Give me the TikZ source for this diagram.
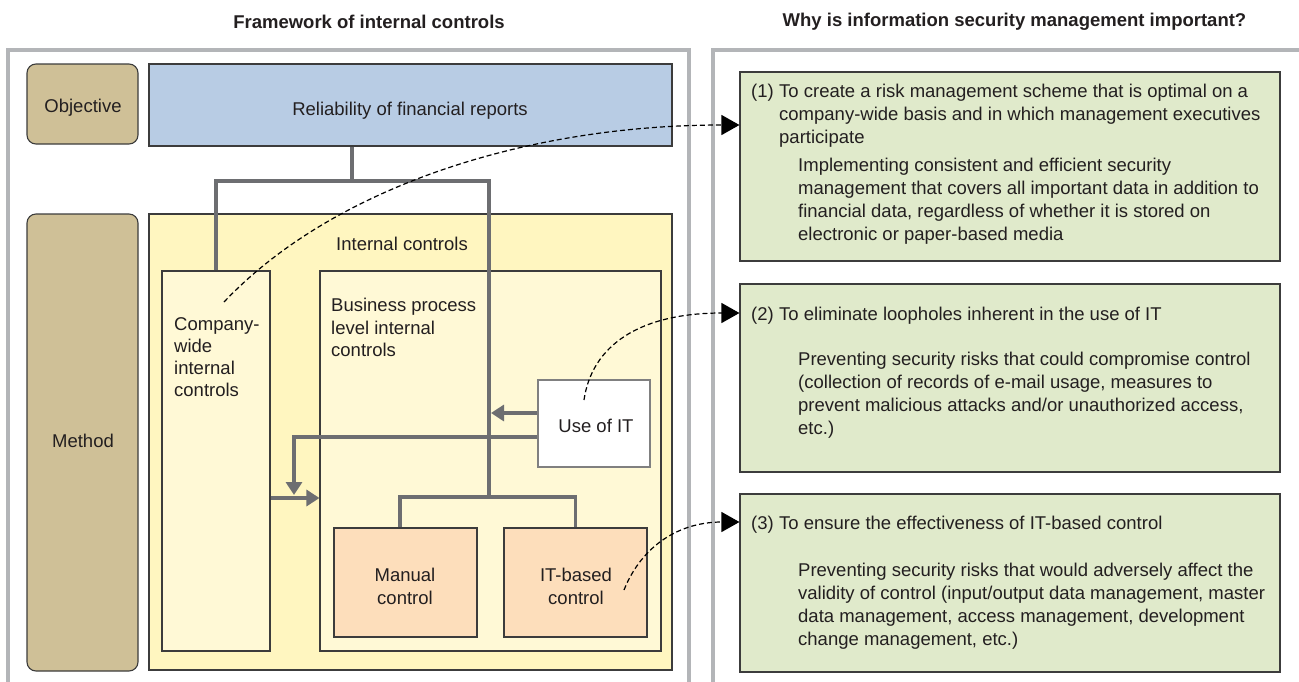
\documentclass[tikz,border=0pt]{standalone}
\usepackage{fontspec}
\setmainfont{Liberation Sans}
\usetikzlibrary{arrows.meta}

\definecolor{ink}{HTML}{231F20}
\definecolor{framegray}{HTML}{B3B5B8}
\definecolor{boxline}{HTML}{3C3C3C}
\definecolor{treegray}{HTML}{6D6E71}
\definecolor{objtan}{HTML}{CFC097}
\definecolor{relblue}{HTML}{B8CCE4}
\definecolor{icyellow}{HTML}{FFF6C0}
\definecolor{paleyellow}{HTML}{FFF9D6}
\definecolor{peach}{HTML}{FDDEBB}
\definecolor{sagegreen}{HTML}{E0EACB}

\tikzset{
  frame/.style={draw=framegray, line width=3.5pt},
  box/.style={draw=boxline, line width=1.1pt, inner sep=0pt},
  tanbox/.style={box, fill=objtan, rounded corners=9pt, minimum width=111pt},
  tree/.style={draw=treegray, line width=3.5pt},
  flow/.style={tree, -{Triangle[length=13pt,width=16pt]}},
  link/.style={line width=1.2pt, dash pattern=on 5pt off 3pt, -{Triangle[length=18pt,width=20pt]}},
  txt/.style={anchor=north west, align=left, inner sep=0pt},
}

\begin{document}
\begin{tikzpicture}[x=1pt, y=-1pt, font=\fontsize{18.5}{23}\selectfont, text=ink]
\useasboundingbox (0,0) rectangle (1299,681);

\node[font=\fontsize{18.5}{23}\selectfont\bfseries] (lefttitle) at (369,22) {Framework of internal controls};
\node[font=\fontsize{18.5}{23}\selectfont\bfseries] (righttitle) at (1014.5,22) {Why is information security management important?};
\draw[frame] (8,690) -- (8,50) -- (689,50) -- (689,690);
\draw[frame] (713,690) -- (713,50) -- (1310,50);

% framework side
\node[tanbox, minimum height=80pt] (obj) at (82.5,104) {};
\node[box, fill=relblue, minimum width=523pt, minimum height=82pt] (rel) at (410.5,105) {};
\node[tanbox, minimum height=457pt] (meth) at (82.5,442.5) {};
\node[box, fill=icyellow, minimum width=523pt, minimum height=456pt] (ic) at (410.5,442) {};
\node[box, fill=paleyellow, minimum width=108pt, minimum height=380pt] (cw) at (216,461) {};
\node[box, fill=paleyellow, minimum width=341pt, minimum height=380pt] (bp) at (490.5,461) {};
\node[box, draw=gray, line width=1.4pt, fill=white, minimum width=112pt, minimum height=87pt] (it) at (594,423.5) {};
\node[box, fill=peach, minimum width=143pt, minimum height=109pt] (man) at (405.5,582.5) {};
\node[box, fill=peach, minimum width=143pt, minimum height=109pt] (itb) at (575.5,582.5) {};

\node (objlabel) at (83,107.5) {Objective};
\node (rellabel) at (410,111) {Reliability of financial reports};
\node (methlabel) at (83,440.5) {Method};
\node (iclabel) at (402,244) {Internal controls};
\node[txt, font=\fontsize{18.5}{22}\selectfont] (cwlabel) at (174,315) {\strut Company-\\wide\\internal\\controls};
\node[txt, font=\fontsize{18.5}{22.5}\selectfont] (bplabel) at (331,296) {\strut Business process\\level internal\\controls};
\node (itlabel) at (596,426) {Use of IT};
\node[align=center] (manlabel) at (405,586.5) {Manual\\control};
\node[align=center] (itblabel) at (576,586.5) {IT-based\\control};

\coordinate (fork) at (352,181);
\coordinate (join) at (489,497);
\coordinate (trunk) at (491,497);
\draw[tree] (fork |- rel.south) -- (fork);
\draw[tree] (cw.north) |- (fork) -| (join);
\draw[tree] ([xshift=-5.5pt]man.north) |- (join) -| (itb.north);

\coordinate (itA) at ([yshift=10.5pt]it.west);
\coordinate (itB) at ([yshift=-13.5pt]it.west);
\coordinate (drop) at (294,495);
\draw[flow] (itA) -- (itA -| trunk);
\draw[flow] (itB) -| (drop);
\draw[flow] ([yshift=-37pt]cw.east) -- ([yshift=-37pt]bp.west);

% why side
\node[box, fill=sagegreen, minimum width=540pt, minimum height=189pt] (g1) at (1010,166.5) {};
\node[box, fill=sagegreen, minimum width=540pt, minimum height=188pt] (g2) at (1010,378) {};
\node[box, fill=sagegreen, minimum width=540pt, minimum height=178pt] (g3) at (1010,583) {};

\node[anchor=base west, inner sep=0pt] (n1) at (751,97.5) {(1)};
\node[txt] (h1) at (779,81.4) {\strut To create a risk management scheme that is optimal on a\\company-wide basis and in which management executives\\participate};
\node[txt] (b1) at (798,155) {\strut Implementing consistent and efficient security\\management that covers all important data in addition to\\financial data, regardless of whether it is stored on\\electronic or paper-based media};

\node[anchor=base west, inner sep=0pt] (n2) at (751,320) {(2)};
\node[txt] (h2) at (779,303.9) {\strut To eliminate loopholes inherent in the use of IT};
\node[txt] (b2) at (798,349) {\strut Preventing security risks that could compromise control\\(collection of records of e-mail usage, measures to\\prevent malicious attacks and/or unauthorized access,\\etc.)};

\node[anchor=base west, inner sep=0pt] (n3) at (751,529) {(3)};
\node[txt] (h3) at (779,512.9) {\strut To ensure the effectiveness of IT-based control};
\node[txt] (b3) at (798,560) {\strut Preventing security risks that would adversely affect the\\validity of control (input/output data management, master\\data management, access management, development\\change management, etc.)};

\coordinate (d1) at (224,302);
\coordinate (d2) at (584,400);
\coordinate (d3) at (624,590);
\draw[link] (d1) .. controls (332,188) and (525,125) .. ([yshift=41.5pt]g1.west);
\draw[link] (d2) .. controls (592,345) and (640,313) .. ([yshift=65pt]g2.west);
\draw[link] (d3) .. controls (642,545) and (680,522) .. ([yshift=61pt]g3.west);
\end{tikzpicture}
\end{document}
